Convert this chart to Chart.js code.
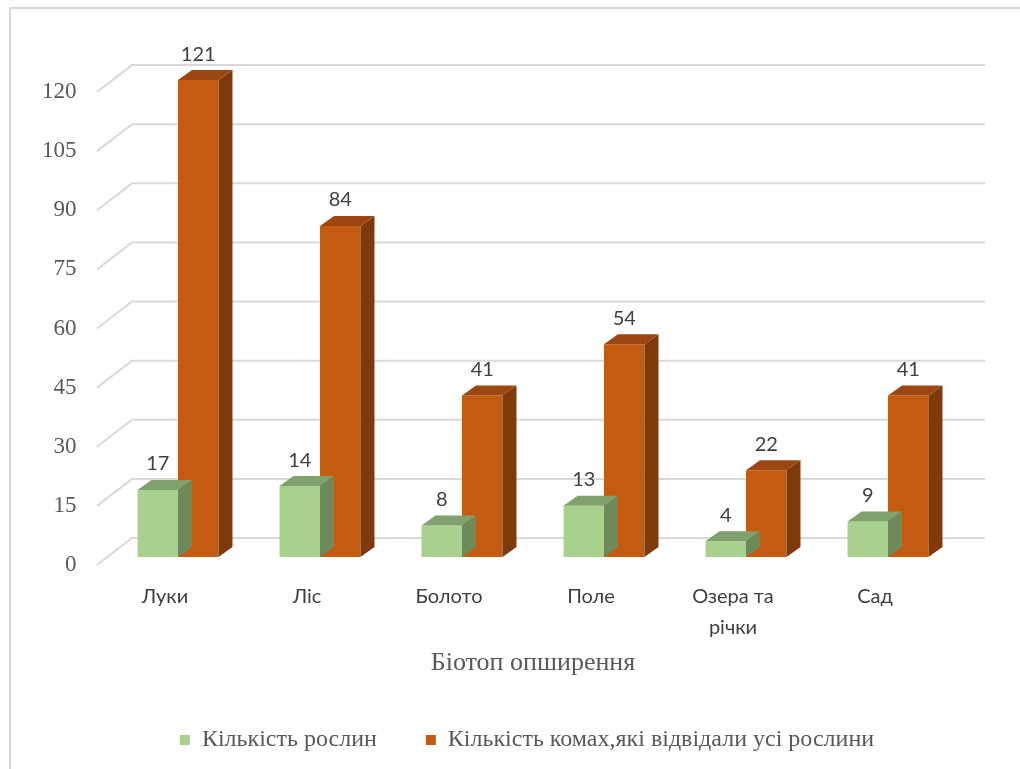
<!DOCTYPE html>
<html>
<head>
<meta charset="utf-8">
<script src="https://cdn.jsdelivr.net/npm/chart.js@4.4.1/dist/chart.umd.min.js"></script>
<style>
    html, body { margin: 0; padding: 0; background: #fff; overflow: hidden; }
    #wrap { position: relative; width: 1020px; height: 769px; }
    #frame { position: absolute; left: 9px; top: 7px; width: 1100px; height: 900px; border: 2px solid #d9d9d9; box-sizing: border-box; }
    canvas { position: absolute; left: 0; top: 0; }
</style>
</head>
<body>
<div id="wrap">
    <div id="frame"></div>
    <canvas id="chartBiotop" width="1020" height="769"></canvas>
</div>
<script>
    const biotopes = ['Луки', 'Ліс', 'Болото', 'Поле', ['Озера та', 'річки'], 'Сад'];
    // bar heights as drawn, and the numbers printed above them
    const plantCounts = [17, 18, 8, 13, 4, 9];
    const plantLabels = ['17', '14', '8', '13', '4', '9'];
    const insectCounts = [121, 84, 41, 54, 22, 41];
    const insectLabels = ['121', '84', '41', '54', '22', '41'];
    const yTicks = [0, 15, 30, 45, 60, 75, 90, 105, 120];

    const DEPTH_X = 14;
    const DEPTH_Y = 10;
    const faceColors = [
        { top: '#80a06c', side: '#6d8a5a' },
        { top: '#9c4612', side: '#7f390b' }
    ];

    const bar3d = {
        id: 'bar3d',
        beforeDatasetsDraw(chart) {
            // floor + back wall gridlines, bent like the 3d grid
            const { ctx, chartArea, scales: { y } } = chart;
            ctx.save();
            ctx.strokeStyle = '#d9d9d9';
            ctx.lineWidth = 2;
            yTicks.forEach(v => {
                const py = y.getPixelForValue(v);
                ctx.beginPath();
                ctx.moveTo(chartArea.left - 10, py + 8);
                ctx.lineTo(chartArea.left + 25, py - 19);
                ctx.lineTo(chartArea.right + 26, py - 19);
                ctx.stroke();
            });
            ctx.restore();
        },
        afterDatasetDraw(chart, args) {
            const ctx = chart.ctx;
            const c = faceColors[args.index];
            ctx.save();
            args.meta.data.forEach(bar => {
                const x1 = bar.x - bar.width / 2;
                const x2 = bar.x + bar.width / 2;
                const top = bar.y;
                const base = bar.base;
                ctx.fillStyle = c.side;
                ctx.beginPath();
                ctx.moveTo(x2, top);
                ctx.lineTo(x2 + DEPTH_X, top - DEPTH_Y);
                ctx.lineTo(x2 + DEPTH_X, base - DEPTH_Y);
                ctx.lineTo(x2, base);
                ctx.closePath();
                ctx.fill();
                ctx.fillStyle = c.top;
                ctx.beginPath();
                ctx.moveTo(x1, top);
                ctx.lineTo(x1 + DEPTH_X, top - DEPTH_Y);
                ctx.lineTo(x2 + DEPTH_X, top - DEPTH_Y);
                ctx.lineTo(x2, top);
                ctx.closePath();
                ctx.fill();
            });
            ctx.restore();
        },
        afterDatasetsDraw(chart) {
            const ctx = chart.ctx;
            const texts = [plantLabels, insectLabels];
            ctx.save();
            ctx.font = '20px Lato';
            ctx.fillStyle = '#404040';
            ctx.textAlign = 'center';
            ctx.textBaseline = 'middle';
            chart.data.datasets.forEach((ds, i) => {
                chart.getDatasetMeta(i).data.forEach((bar, j) => {
                    ctx.fillText(texts[i][j], bar.x, bar.y - 26);
                });
            });
            ctx.restore();
        }
    };

    new Chart(document.getElementById('chartBiotop'), {
        type: 'bar',
        data: {
            labels: biotopes,
            datasets: [{
                label: 'Кількість рослин',
                data: plantCounts,
                backgroundColor: '#a9d18e',
                borderWidth: 0,
                clip: false
            }, {
                label: 'Кількість комах,які відвідали усі рослини',
                data: insectCounts,
                backgroundColor: '#c55a11',
                borderWidth: 0,
                clip: false
            }]
        },
        options: {
            responsive: false,
            animation: false,
            categoryPercentage: 0.57,
            barPercentage: 1,
            layout: { padding: { left: 95, right: 61, top: 84, bottom: 7 } },
            scales: {
                x: {
                    grid: { display: false, drawTicks: false },
                    border: { display: false },
                    ticks: {
                        font: { family: 'Lato', size: 20, lineHeight: 1.55 },
                        color: '#404040',
                        padding: 24,
                        labelOffset: -13,
                        maxRotation: 0,
                        autoSkip: false
                    },
                    title: {
                        display: true,
                        text: 'Біотоп опширення',
                        font: { family: 'Liberation Serif', size: 26 },
                        color: '#595959',
                        padding: { top: 0, bottom: 0 }
                    },
                    afterFit(scale) { scale.height = 122; }
                },
                y: {
                    min: 0,
                    max: 120,
                    ticks: {
                        stepSize: 15,
                        font: { family: 'Liberation Serif', size: 23 },
                        color: '#595959',
                        // mirrored so the labels are not clipped to the thin axis box
                        mirror: true,
                        crossAlign: 'far',
                        padding: -65,
                        labelOffset: 8
                    },
                    grid: { display: false, drawTicks: false },
                    border: { display: false },
                    afterFit(scale) { scale.width = 12; }
                }
            },
            plugins: {
                legend: {
                    position: 'bottom',
                    labels: {
                        boxWidth: 10,
                        boxHeight: 10,
                        padding: 49,
                        font: { family: 'Liberation Serif', size: 24 },
                        color: '#595959'
                    }
                },
                tooltip: { enabled: false }
            }
        },
        plugins: [bar3d]
    });
</script>
</body>
</html>
